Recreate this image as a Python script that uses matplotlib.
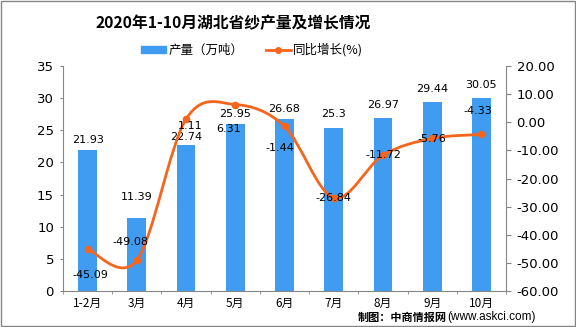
import matplotlib
matplotlib.use("Agg")
import matplotlib.pyplot as plt
from matplotlib.path import Path
from matplotlib.patches import PathPatch, Rectangle
from matplotlib.lines import Line2D
from matplotlib.ticker import MultipleLocator, FormatStrFormatter
import numpy as np

plt.rcParams['font.family'] = ['DejaVu Sans', 'Noto Sans CJK SC']

categories = ["1-2月", "3月", "4月", "5月", "6月", "7月", "8月", "9月", "10月"]
production = [21.93, 11.39, 22.74, 25.95, 26.68, 25.3, 26.97, 29.44, 30.05]
growth = [-45.09, -49.08, 1.11, 6.31, -1.44, -26.84, -11.72, -5.76, -4.33]
prod_labels = ["21.93", "11.39", "22.74", "25.95", "26.68", "25.3", "26.97", "29.44", "30.05"]
growth_labels = ["-45.09", "-49.08", "1.11", "6.31", "-1.44", "-26.84", "-11.72", "-5.76", "-4.33"]

# label offsets in pixels (style only)
p_offsets = [10, 21, 8, 10, 10.5, 14, 12.5, 13, 13]
g_offsets = [(3, -26), (-6, 18), (4, -7), (-7, -24), (-5, -22), (0, 0), (0, 0), (0, -1), (-4, 23)]

BLUE = "#3f9cf0"
ORANGE = "#f5651c"
GRAY = "#868686"
CJK = ['Noto Sans CJK SC', 'DejaVu Sans']
PX = 0.72  # points per pixel at dpi 100

W, H = 576, 327
fig = plt.figure(figsize=(W / 100, H / 100), dpi=100)
L, R, T, B = 63, 506, 66, 291
ax = fig.add_axes([L / W, 1 - B / H, (R - L) / W, (B - T) / H])
ax2 = ax.twinx()

x = np.arange(len(categories))
ax.bar(x, production, width=0.38, color=BLUE, zorder=2)
ax.set_xlim(-0.5, len(categories) - 0.5)
ax.set_ylim(0, 35)
ax.yaxis.set_major_locator(MultipleLocator(5))
ax2.set_ylim(-60, 20)
ax2.yaxis.set_major_locator(MultipleLocator(10))
ax2.yaxis.set_major_formatter(FormatStrFormatter('%.2f'))

ax.set_xticks(x)
ax.set_xticklabels(categories, fontfamily=CJK, fontsize=8.5)
ax.set_xticks(np.arange(-0.5, len(categories)), minor=True)
ax.tick_params(axis='x', which='major', length=0, pad=4)
ax.tick_params(axis='x', which='minor', length=2.5, color=GRAY)
ax.tick_params(axis='y', length=2.5, color=GRAY, labelsize=9.5, pad=4)
ax2.tick_params(axis='y', length=3.6, color=GRAY, labelsize=9.5, pad=4)

for a in (ax, ax2):
    a.spines['top'].set_visible(False)
    for s in ('left', 'right', 'bottom'):
        a.spines[s].set_color(GRAY)
ax.spines['right'].set_visible(False)
ax2.spines['left'].set_visible(False)
ax2.spines['bottom'].set_visible(False)

# bar labels
for xi, v, lab, dy in zip(x, production, prod_labels, p_offsets):
    ax.annotate(lab, (xi, v), xytext=(0, dy * PX), textcoords='offset points',
                ha='center', va='center', fontsize=8)

# smooth line (Catmull-Rom as cubic Bezier)
pts = np.column_stack([x, growth]).astype(float)
verts = [tuple(pts[0])]
codes = [Path.MOVETO]
n = len(pts)
for i in range(n - 1):
    p0 = pts[i - 1] if i > 0 else pts[i]
    p1 = pts[i]
    p2 = pts[i + 1]
    p3 = pts[i + 2] if i + 2 < n else pts[i + 1]
    c1 = p1 + (p2 - p0) / 6
    c2 = p2 - (p3 - p1) / 6
    verts += [tuple(c1), tuple(c2), tuple(p2)]
    codes += [Path.CURVE4] * 3
ax2.add_patch(PathPatch(Path(verts, codes), facecolor='none', edgecolor=ORANGE,
                        lw=2.0, zorder=3, capstyle='round'))
ax2.plot(x, growth, linestyle='none', marker='o', markersize=4.5, color=ORANGE, zorder=4)

for xi, v, lab, (dx, dy) in zip(x, growth, growth_labels, g_offsets):
    ax2.annotate(lab, (xi, v), xytext=(dx * PX, dy * PX), textcoords='offset points',
                 ha='center', va='center', fontsize=8, zorder=5)

# title
fig.text(233.5 / W, 1 - 23 / H, "2020年1-10月湖北省纱产量及增长情况", ha='center', va='center',
         fontsize=11.3, fontweight='bold', fontfamily=CJK)

# legend
handles = [Rectangle((0, 0), 1, 1, color=BLUE),
           Line2D([], [], color=ORANGE, lw=2.0, marker='o', markersize=4)]
leg = fig.legend(handles, ["产量（万吨）", "同比增长(%)"], loc='center',
                 bbox_to_anchor=(252 / W, 1 - 50 / H), ncol=2, frameon=False,
                 prop={'family': CJK, 'size': 9}, handlelength=2.0,
                 handleheight=0.55, columnspacing=1.8, handletextpad=0.2,
                 borderpad=0, borderaxespad=0)

# footer
t1 = fig.text(358 / W, 1 - 317 / H, "制图：中商情报网", ha='left', va='center',
              fontsize=8, fontweight='bold', fontfamily=CJK)
fig.canvas.draw()
bb = t1.get_window_extent()
fig.text(bb.x1 / W, 1 - 317 / H, "(www.askci.com)", ha='left', va='center',
         fontsize=8.5, fontfamily=['Liberation Sans', 'DejaVu Sans'])

# figure border
fig.add_artist(Rectangle((0.001, 0.002), 0.997, 0.995, transform=fig.transFigure,
                         fill=False, edgecolor=GRAY, lw=1))

fig.savefig("out.png", dpi=100)
